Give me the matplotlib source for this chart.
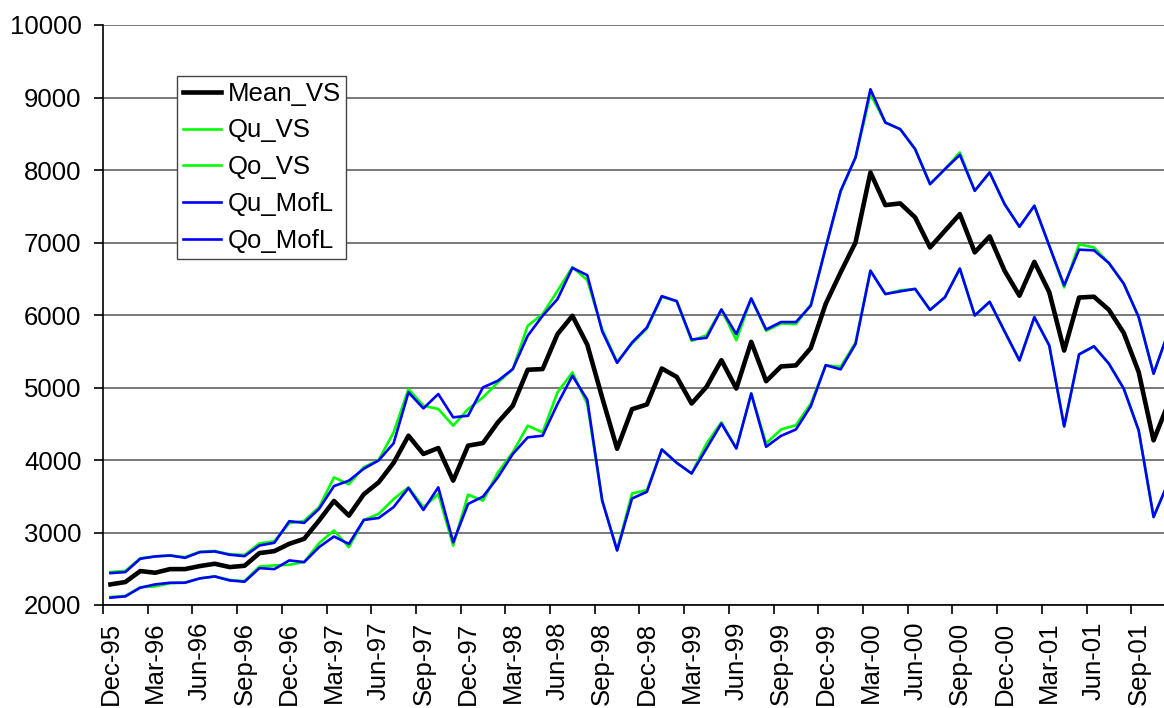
import matplotlib
matplotlib.use("Agg")
import matplotlib.pyplot as plt
import numpy as np

plt.rcParams['font.family'] = ['Liberation Sans', 'DejaVu Sans']

# tick labels (every third month, Dec-95 .. Sep-01)
tick_labels = ["Dec-95", "Mar-96", "Jun-96", "Sep-96", "Dec-96", "Mar-97", "Jun-97",
               "Sep-97", "Dec-97", "Mar-98", "Jun-98", "Sep-98", "Dec-98", "Mar-99",
               "Jun-99", "Sep-99", "Dec-99", "Mar-00", "Jun-00", "Sep-00", "Dec-00",
               "Mar-01", "Jun-01", "Sep-01"]

mean_vs = [2284, 2317, 2468, 2445, 2495, 2495, 2537, 2569, 2523, 2541, 2716, 2743,
           2844, 2913, 3165, 3435, 3233, 3527, 3692, 3960, 4335, 4083, 4165, 3715,
           4198, 4234, 4519, 4749, 5245, 5254, 5736, 5989, 5590, 4860, 4155, 4701,
           4766, 5262, 5147, 4779, 5009, 5377, 4986, 5630, 5087, 5290, 5305, 5545,
           6155, 6588, 7001, 7966, 7516, 7539, 7346, 6932, 7162, 7392, 6864, 7084,
           6611, 6266, 6733, 6315, 5510, 6241, 6252, 6072, 5752, 5214, 4271, 4785]

qu_vs = [2110, 2125, 2245, 2257, 2300, 2310, 2367, 2394, 2345, 2330, 2530, 2546,
         2555, 2592, 2853, 3028, 2798, 3170, 3257, 3460, 3623, 3348, 3531, 2819,
         3522, 3440, 3830, 4106, 4473, 4381, 4933, 5208, 4772, 3440, 2760, 3538,
         3584, 4145, 3961, 3814, 4228, 4520, 4159, 4917, 4228, 4421, 4480, 4779,
         5308, 5285, 5620, 6611, 6289, 6340, 6360, 6070, 6245, 6640, 5993, 6182,
         5775, 5373, 5970, 5580, 4464, 5457, 5568, 5329, 4984, 4409, 3214, 3696]

qo_vs = [2455, 2470, 2645, 2670, 2683, 2660, 2735, 2745, 2700, 2690, 2850, 2880,
         3128, 3160, 3349, 3761, 3665, 3900, 4000, 4380, 4978, 4749, 4703, 4473,
         4703, 4864, 5070, 5254, 5851, 6012, 6333, 6660, 6480, 5800, 5354, 5607,
         5814, 6250, 6191, 5644, 5722, 6076, 5653, 6228, 5782, 5883, 5874, 6145,
         6932, 7700, 8173, 9045, 8655, 8563, 8288, 7805, 8012, 8242, 7713, 7966,
         7530, 7217, 7507, 6955, 6381, 6975, 6932, 6717, 6432, 5972, 5191, 5770]

qu_mofl = [2101, 2119, 2239, 2284, 2307, 2307, 2367, 2394, 2339, 2321, 2509, 2495,
           2615, 2592, 2798, 2945, 2842, 3173, 3200, 3350, 3614, 3311, 3623, 2865,
           3394, 3495, 3761, 4083, 4312, 4335, 4772, 5162, 4830, 3440, 2751, 3469,
           3561, 4145, 3961, 3814, 4159, 4503, 4159, 4917, 4182, 4333, 4421, 4743,
           5308, 5250, 5600, 6611, 6289, 6326, 6360, 6070, 6245, 6640, 5993, 6182,
           5775, 5373, 5970, 5580, 4464, 5457, 5568, 5329, 4984, 4409, 3214, 3696]

qo_mofl = [2440, 2454, 2638, 2670, 2683, 2651, 2729, 2739, 2693, 2674, 2821, 2858,
           3156, 3133, 3326, 3640, 3715, 3880, 3995, 4230, 4933, 4712, 4910, 4588,
           4611, 5001, 5093, 5254, 5713, 5989, 6219, 6650, 6549, 5775, 5340, 5620,
           5828, 6260, 6191, 5662, 5685, 6076, 5736, 6228, 5800, 5903, 5903, 6129,
           6932, 7713, 8173, 9114, 8655, 8563, 8288, 7805, 8012, 8209, 7713, 7966,
           7530, 7217, 7507, 6955, 6409, 6901, 6892, 6717, 6432, 5972, 5191, 5770]

x = np.arange(len(mean_vs))

fig = plt.figure(figsize=(11.64, 7.08), dpi=100)
ax = fig.add_axes([103/1164, 103/708, 1 - 103/1164, 580/708])

green = '#00FF00'
blue = '#0000FF'
l_qu_vs, = ax.plot(x, qu_vs, color=green, lw=1.9, zorder=3, label='Qu_VS')
l_qo_vs, = ax.plot(x, qo_vs, color=green, lw=1.9, zorder=3, label='Qo_VS')
l_qu_m, = ax.plot(x, qu_mofl, color=blue, lw=1.9, zorder=4, label='Qu_MofL')
l_qo_m, = ax.plot(x, qo_mofl, color=blue, lw=1.9, zorder=4, label='Qo_MofL')
l_mean, = ax.plot(x, mean_vs, color='black', lw=3.3, zorder=5, label='Mean_VS')

ax.set_ylim(2000, 10000)
ax.set_yticks(np.arange(2000, 10001, 1000))
ax.set_xlim(-0.5, 70.7)

label_pos = np.arange(0, 3 * len(tick_labels), 3)
ax.set_xticks(label_pos)
ax.set_xticklabels(tick_labels, rotation=90, fontsize=18.5)
ax.set_xticks(label_pos - 0.5, minor=True)
ax.tick_params(axis='x', which='major', length=0, pad=12)
ax.tick_params(axis='x', which='minor', length=6.5, width=1.2, direction='out', color='black')
ax.tick_params(axis='y', which='major', length=6.5, width=1.2, direction='out',
               labelsize=18.5, pad=9)

ax.grid(axis='y', color='#555555', lw=1.1, zorder=1)
ax.set_axisbelow(True)
for s in ['top', 'right']:
    ax.spines[s].set_visible(False)
for s in ['left', 'bottom']:
    ax.spines[s].set_linewidth(1.2)
    ax.spines[s].set_zorder(6)

leg = ax.legend(handles=[l_mean, l_qu_vs, l_qo_vs, l_qu_m, l_qo_m],
                loc='upper left', bbox_to_anchor=(74/1061, (605-76)/580),
                fontsize=18.5, frameon=True, fancybox=False, edgecolor='#444444',
                framealpha=1, handlelength=1.5, handletextpad=0.25,
                labelspacing=0.5, borderpad=0.22, borderaxespad=0)
leg.get_frame().set_linewidth(1.0)

fig.savefig('out.png', dpi=100)
